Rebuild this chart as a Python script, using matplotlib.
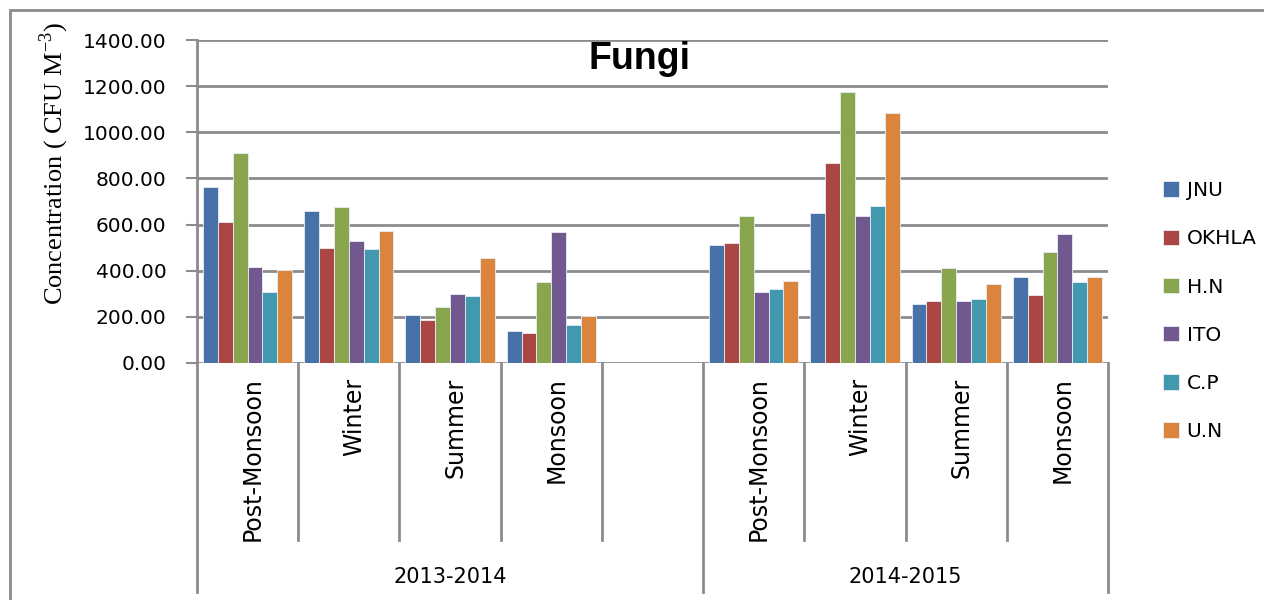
import numpy as np
import matplotlib.pyplot as plt
from matplotlib.patches import Rectangle

# data
seasons = ['Post-Monsoon', 'Winter', 'Summer', 'Monsoon']
years = ['2013-2014', '2014-2015']
sites = ['JNU', 'OKHLA', 'H.N', 'ITO', 'C.P', 'U.N']

jnu = [763, 658, 206, 140, 511, 652, 257, 374]
okhla = [613, 498, 188, 128, 522, 866, 270, 296]
hn = [912, 674, 241, 351, 636, 1173, 413, 482]
ito = [417, 528, 299, 567, 309, 636, 270, 557]
cp = [306, 492, 290, 166, 319, 681, 277, 351]
un = [405, 573, 456, 202, 356, 1085, 341, 371]

series = [jnu, okhla, hn, ito, cp, un]
colors = ['#4672a8', '#aa4643', '#89a54e', '#71588f', '#4198af', '#db843d']

# category slots: 4 seasons, one empty slot, 4 seasons
slots = [0, 1, 2, 3, 5, 6, 7, 8]
n_slots = 9

W, H = 1264, 600
fig = plt.figure(figsize=(W / 100, H / 100), dpi=100)
ax = fig.add_axes([197 / W, (H - 363) / H, (1108 - 197) / W, (363 - 40) / H])

# outer chart border
fig.add_artist(Rectangle((10 / W, -0.1), 1.2, (H - 10) / H + 0.1, transform=fig.transFigure,
                         fill=False, edgecolor='#8a8a8a', linewidth=2))

grid_c = '#8c8c8c'
bw = 0.147
x = np.array(slots) + 0.5
for k, (vals, c) in enumerate(zip(series, colors)):
    ax.bar(x + (k - 2.5) * bw, vals, width=bw, color=c, edgecolor='#e8eef5',
           linewidth=0.6, label=sites[k], zorder=3)

ax.set_xlim(0, n_slots)
ax.set_ylim(0, 1400)
ax.set_yticks(np.arange(0, 1401, 200))
ax.set_yticklabels(['%.2f' % v for v in np.arange(0, 1401, 200)], fontsize=14.5)
ax.yaxis.grid(True, color=grid_c, linewidth=2)
ax.set_axisbelow(True)
ax.set_xticks([])
for s in ['top', 'right', 'bottom']:
    ax.spines[s].set_visible(False)
ax.spines['left'].set_color(grid_c)
ax.spines['left'].set_linewidth(2)
ax.tick_params(axis='y', length=8, width=1.5, color=grid_c, pad=14)

# separators below the axis
tr = ax.get_xaxis_transform()
for i in range(n_slots + 1):
    if i in (0, 5, 9):
        y_end = -(592 - 363) / 323
    else:
        y_end = -(540 - 363) / 323
    ax.plot([i, i], [0, y_end], color=grid_c, linewidth=2, transform=tr, clip_on=False)

for xi, i in enumerate(slots):
    ax.text(i + 0.55, -0.045, seasons[xi % 4], rotation=90, ha='center', va='top',
            fontsize=17, transform=tr)

ax.text(2.5, -(577 - 363) / 323, years[0], ha='center', va='center', fontsize=15,
        transform=tr)
ax.text(7.0, -(577 - 363) / 323, years[1], ha='center', va='center', fontsize=15,
        transform=tr)

ax.text(0.486, 0.94, 'Fungi', transform=ax.transAxes, ha='center', va='center',
        fontsize=27, fontweight='bold', family='Liberation Sans')

fig.text(54 / W, 1 - 163 / H, 'Concentration ( CFU M$^{\\mathregular{-3}}$)', rotation=90,
         ha='center', va='center', fontsize=19, family='Liberation Serif')

leg = ax.legend(loc='upper left', bbox_to_anchor=(1.04, (363 - 163) / 323), frameon=False,
                fontsize=14.5, handlelength=0.8, handleheight=0.8, labelspacing=1.45,
                handletextpad=0.4)

fig.savefig('out.png', dpi=100)
